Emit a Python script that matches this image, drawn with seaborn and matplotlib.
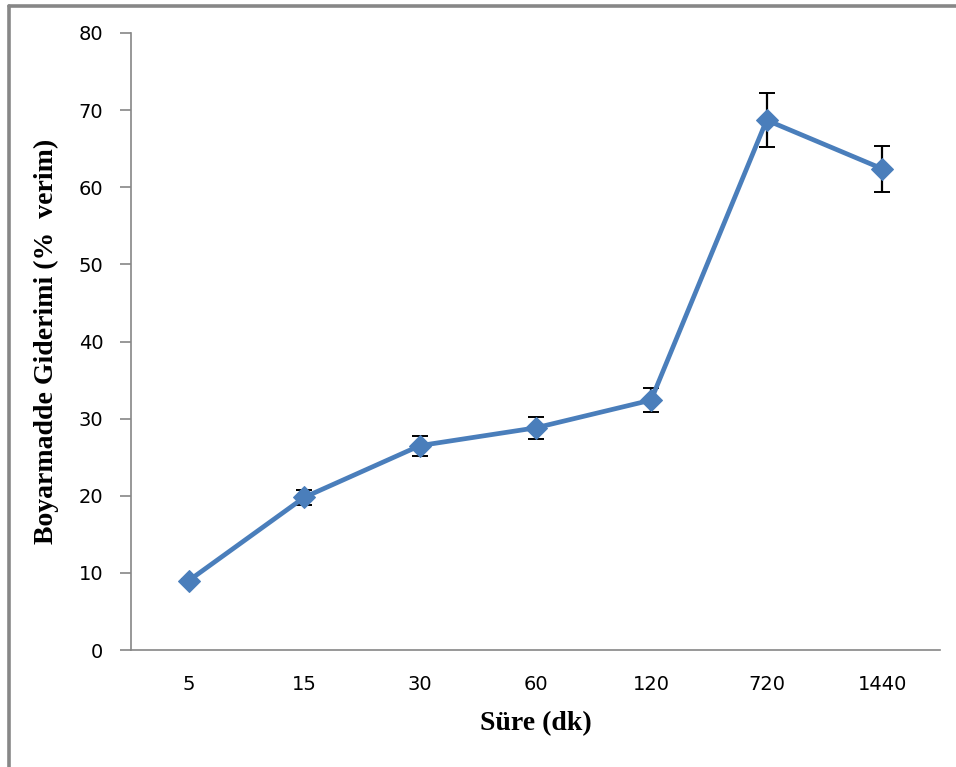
import numpy as np
import pandas as pd
import matplotlib
matplotlib.use("Agg")
import matplotlib.pyplot as plt
from matplotlib.lines import Line2D
import seaborn as sns

# Contact time (minutes) and dye removal efficiency (%)
sure_dk = ["5", "15", "30", "60", "120", "720", "1440"]
giderim = [9.0, 19.8, 26.5, 28.8, 32.4, 68.7, 62.4]
hata = [0.2, 1.0, 1.3, 1.4, 1.55, 3.5, 3.0]

df = pd.DataFrame({"sure": sure_dk, "giderim": giderim, "hata": hata})

sns.set_theme(style="white")
plt.rcParams["font.family"] = ["DejaVu Sans"]
plt.rcParams["text.color"] = "black"
plt.rcParams["axes.labelcolor"] = "black"

fig = plt.figure(figsize=(9.56, 7.67), dpi=100)
ax = fig.add_axes([131 / 956, 1 - 650 / 767, (940 - 131) / 956, (650 - 33) / 767])

blue = "#4A7EBB"
pos = np.arange(len(sure_dk))

ax.errorbar(pos, df["giderim"], yerr=df["hata"], fmt="none",
            ecolor="black", elinewidth=1.6, capsize=6, capthick=1.4, zorder=2)
sns.lineplot(x=pos, y=df["giderim"], ax=ax, color=blue, linewidth=3.4,
             marker="D", markersize=11, markeredgecolor=blue, zorder=3)

ax.set_xlim(-0.5, len(sure_dk) - 0.5)
ax.set_ylim(0, 80)
ax.set_yticks(np.arange(0, 81, 10))
ax.set_xticks(pos)
ax.set_xticklabels(sure_dk)
ax.set_xticks(np.arange(-0.5, len(sure_dk)), minor=True)

grey = "#868686"
for side in ["top", "right"]:
    ax.spines[side].set_visible(False)
for side in ["left", "bottom"]:
    ax.spines[side].set_color(grey)
    ax.spines[side].set_linewidth(1.2)

ax.tick_params(axis="x", which="major", length=0, pad=18, labelsize=14, labelcolor="black")
ax.tick_params(axis="x", which="minor", length=8, width=1.2, color=grey, direction="out")
ax.tick_params(axis="y", which="major", length=8, width=1.2, color=grey, direction="out",
               left=True, pad=12, labelsize=14, labelcolor="black")

serif_bold = dict(family=["Liberation Serif", "DejaVu Serif"], weight="bold", size=20,
                  color="black")
ax.set_xlabel("Süre (dk)", fontdict=serif_bold, labelpad=12)
ax.set_ylabel("Boyarmadde Giderimi (%  verim)", fontdict=serif_bold, labelpad=14)

# Outer frame around the chart area
frame_kw = dict(color="#878787", linewidth=2.6, transform=fig.transFigure)
fig.add_artist(Line2D([9 / 956, 1.0], [1 - 6 / 767, 1 - 6 / 767], **frame_kw))
fig.add_artist(Line2D([9 / 956, 9 / 956], [0.0, 1 - 6 / 767], **frame_kw))

fig.savefig("out.png", dpi=100, facecolor="white")
